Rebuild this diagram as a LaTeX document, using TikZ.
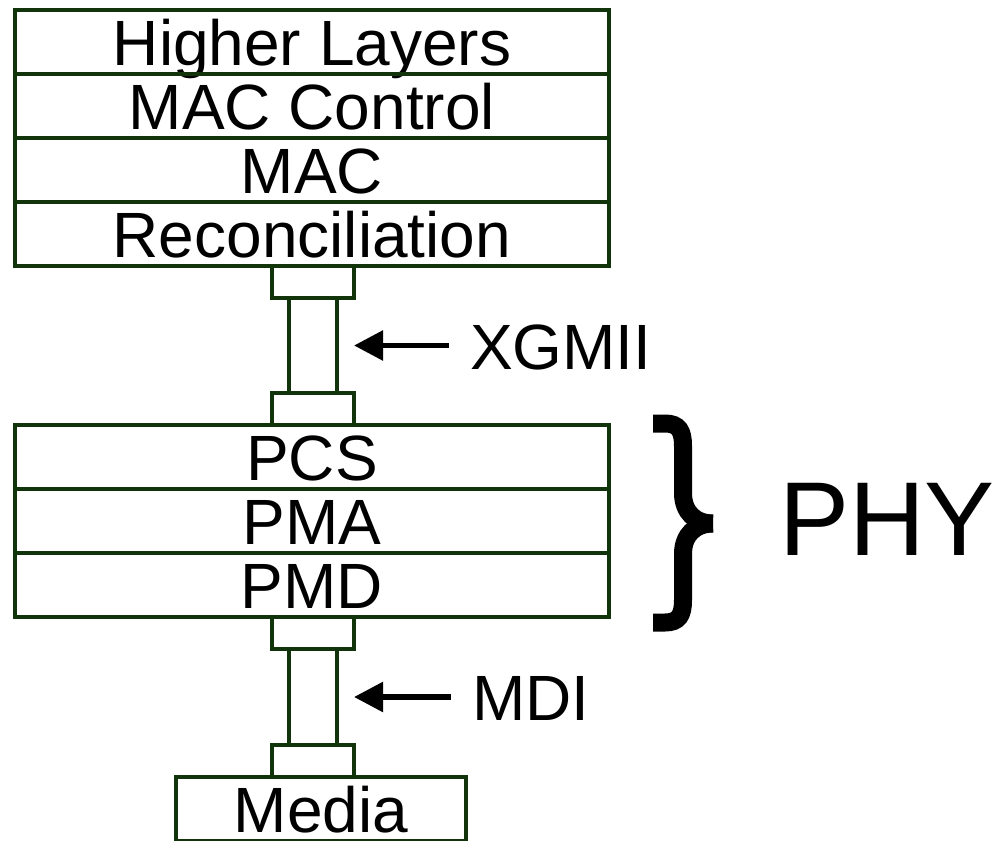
\documentclass[tikz,border=0pt]{standalone}
\usepackage{fontspec}
\setmainfont{Liberation Sans}
\usetikzlibrary{arrows.meta}
\definecolor{layerGreen}{RGB}{18,52,10}

\begin{document}
\begin{tikzpicture}
[x=1pt,y=-1pt,%
  layerBox/.style={draw=layerGreen,line width=3.2pt,inner sep=0pt,outer sep=0pt,%
    minimum width=594pt,minimum height=64pt,%
    font=\fontsize{64pt}{70pt}\selectfont,text height=47pt,text depth=0pt},%
  mediaBox/.style={layerBox,minimum width=290pt},%
  plugBox/.style={draw=layerGreen,line width=3.2pt,inner sep=0pt,outer sep=0pt,%
    minimum width=82pt,minimum height=32pt},%
  barBox/.style={draw=layerGreen,line width=3.2pt,inner sep=0pt,outer sep=0pt,%
    minimum width=48pt,minimum height=96pt},%
  labelText/.style={anchor=west,inner sep=0pt,outer sep=0pt,%
    font=\fontsize{64pt}{70pt}\selectfont,text height=47pt,text depth=0pt},%
  pointerArrow/.style={-{Triangle[length=29pt,width=29pt]},line width=5.5pt,%
    shorten <=21pt,shorten >=17pt}]
\useasboundingbox[fill=white] (0,0) rectangle (994,841);
%% layer stacks
\foreach \nodename/\y/\txt in {higher/42/Higher Layers, macctl/106/MAC Control,
  mac/170/MAC, recon/234/Reconciliation, pcs/457/PCS, pma/521/PMA, pmd/585/PMD}
{
  \node (\nodename) at (312,\y) [layerBox] {\txt};
}
\node (media) at (321,809) [mediaBox] {Media};
%% interface plugs and bars
\foreach \nodename/\y in {plugA/282, plugB/409, plugC/633, plugD/761}
{
  \node (\nodename) at (313,\y) [plugBox] {};
}
\node (xgmiiBar) at (313,345.5) [barBox,minimum height=95pt] {};
\node (mdiBar) at (313,697) [barBox] {};
%% interface labels
\node (xgmii) at (470,345.5) [labelText] {XGMII};
\node (mdi) at (472,697) [labelText] {MDI};
\node (phy) at (779,517) [labelText,font=\fontsize{105pt}{110pt}\selectfont,
  text height=76pt] {PHY};
%% pointers
\path
\foreach \startnode/\endnode in {xgmii/xgmiiBar, mdi/mdiBar}
{
  (\startnode) edge[pointerArrow] (\endnode)
};
%% brace
\draw[line width=18pt]
  (653,423.5) -- (665,423.5) .. controls (679,423.5) and (683,431) .. (683,446)
  -- (683,493) .. controls (683,512) and (695,523.5) .. (713,523.5);
\draw[line width=18pt]
  (653,622.5) -- (665,622.5) .. controls (679,622.5) and (683,615) .. (683,600)
  -- (683,554) .. controls (683,535) and (695,523.5) .. (713,523.5);
\end{tikzpicture}
\end{document}
